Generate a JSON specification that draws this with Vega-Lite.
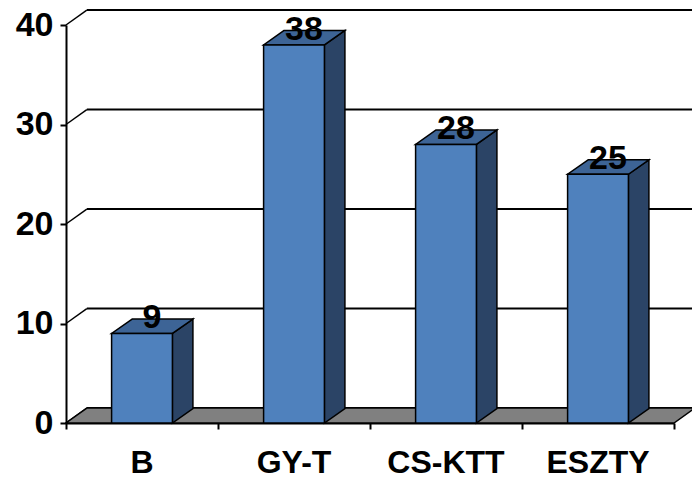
{
  "$schema": "https://vega.github.io/schema/vega-lite/v6.json",
  "width": 608,
  "height": 398,
  "autosize": {"type": "none"},
  "padding": {"left": 66, "top": 25, "right": 18, "bottom": 57},
  "background": "white",
  "config": {
    "view": {"stroke": null},
    "font": "Liberation Sans",
    "axis": {
      "grid": false, "tickSize": 6, "tickWidth": 2, "tickColor": "black",
      "domainWidth": 2, "domainColor": "black"
    },
    "axisX": {"labels": false},
    "axisY": {
      "labelFont": "Liberation Sans", "labelFontSize": 34, "labelFontWeight": "bold",
      "labelColor": "black", "labelPadding": 7
    }
  },
  "datasets": {
    "bars": [
      {"cat": "B", "value": 9},
      {"cat": "GY-T", "value": 38},
      {"cat": "CS-KTT", "value": 28},
      {"cat": "ESZTY", "value": 25}
    ],
    "ticks": [{"v": 0}, {"v": 10}, {"v": 20}, {"v": 30}, {"v": 40}]
  },
  "layer": [
    {
      "data": {"name": "ticks"},
      "transform": [{"calculate": "datum.v + 1.5", "as": "yb"}],
      "mark": {"type": "rule", "stroke": "black", "strokeWidth": 2},
      "encoding": {
        "x": {"datum": 0.137, "type": "quantitative", "title": null, "scale": {"domain": [0, 4], "nice": false}},
        "x2": {"datum": 4.3},
        "y": {"field": "yb", "type": "quantitative", "title": null, "scale": {"domain": [0, 40], "nice": false}}
      }
    },
    {
      "data": {"name": "ticks"},
      "transform": [{"calculate": "datum.v + 1.5", "as": "yb"}],
      "mark": {"type": "rule", "stroke": "black", "strokeWidth": 1.5},
      "encoding": {
        "x": {"datum": 0, "type": "quantitative", "title": null, "scale": {"domain": [0, 4], "nice": false}},
        "x2": {"datum": 0.137},
        "y": {"field": "v", "type": "quantitative", "title": null, "scale": {"domain": [0, 40], "nice": false}},
        "y2": {"field": "yb"}
      }
    },
    {
      "mark": {"type": "rule", "stroke": "black", "strokeWidth": 2},
      "encoding": {
        "x": {"datum": 0.137, "type": "quantitative", "title": null, "scale": {"domain": [0, 4], "nice": false}},
        "y": {"datum": 1.5, "type": "quantitative", "title": null, "scale": {"domain": [0, 40], "nice": false}},
        "y2": {"datum": 41.5}
      }
    },
    {
      "data": {"name": "ticks"},
      "transform": [
        {"filter": "datum.v == 0"},
        {"calculate": "[0, 1]", "as": "t"},
        {"flatten": ["t"]},
        {"calculate": "datum.t * 0.137", "as": "fx0"},
        {"calculate": "4 + datum.t * 0.137", "as": "fx1"},
        {"calculate": "datum.t * 1.5", "as": "fy"}
      ],
      "mark": {"type": "area", "orient": "horizontal", "fill": "#808080", "stroke": "black", "strokeWidth": 1.5},
      "encoding": {
        "y": {"field": "fy", "type": "quantitative", "title": null, "scale": {"domain": [0, 40], "nice": false}},
        "x": {"field": "fx0", "type": "quantitative", "title": null, "scale": {"domain": [0, 4], "nice": false}},
        "x2": {"field": "fx1"}
      }
    },
    {
      "data": {"name": "bars"},
      "transform": [
        {"window": [{"op": "row_number", "as": "rn"}]},
        {"calculate": "datum.rn - 1", "as": "idx"},
        {"calculate": "[0, 1]", "as": "t"},
        {"flatten": ["t"]},
        {"calculate": "datum.idx + 0.7 + datum.t * 0.135", "as": "sx"},
        {"calculate": "datum.value + datum.t * 1.45", "as": "sy"},
        {"calculate": "datum.t * 1.45", "as": "sy2"}
      ],
      "mark": {"type": "area", "orient": "vertical", "fill": "#2b4466", "stroke": "black", "strokeWidth": 1.5},
      "encoding": {
        "detail": {"field": "cat"},
        "x": {"field": "sx", "type": "quantitative", "title": null, "scale": {"domain": [0, 4], "nice": false}},
        "y": {"field": "sy", "type": "quantitative", "title": null, "scale": {"domain": [0, 40], "nice": false}},
        "y2": {"field": "sy2"}
      }
    },
    {
      "data": {"name": "bars"},
      "transform": [
        {"window": [{"op": "row_number", "as": "rn"}]},
        {"calculate": "datum.rn - 1", "as": "idx"},
        {"calculate": "[0, 1]", "as": "t"},
        {"flatten": ["t"]},
        {"calculate": "datum.idx + 0.3 + datum.t * 0.135", "as": "tx0"},
        {"calculate": "datum.idx + 0.7 + datum.t * 0.135", "as": "tx1"},
        {"calculate": "datum.value + datum.t * 1.45", "as": "ty"}
      ],
      "mark": {"type": "area", "orient": "horizontal", "fill": "#3d6496", "stroke": "black", "strokeWidth": 1.5},
      "encoding": {
        "detail": {"field": "cat"},
        "y": {"field": "ty", "type": "quantitative", "title": null, "scale": {"domain": [0, 40], "nice": false}},
        "x": {"field": "tx0", "type": "quantitative", "title": null, "scale": {"domain": [0, 4], "nice": false}},
        "x2": {"field": "tx1"}
      }
    },
    {
      "data": {"name": "bars"},
      "transform": [
        {"window": [{"op": "row_number", "as": "rn"}]},
        {"calculate": "datum.rn - 1", "as": "idx"},
        {"calculate": "datum.idx + 0.3", "as": "bx0"},
        {"calculate": "datum.idx + 0.7", "as": "bx1"}
      ],
      "mark": {"type": "rect", "fill": "#4f81bd", "stroke": "black", "strokeWidth": 1.5},
      "encoding": {
        "x": {
          "field": "bx0", "type": "quantitative", "title": null,
          "scale": {"domain": [0, 4], "nice": false},
          "axis": {"values": [0, 1, 2, 3, 4], "labels": false, "title": null}
        },
        "x2": {"field": "bx1"},
        "y": {
          "field": "value", "type": "quantitative", "title": null,
          "scale": {"domain": [0, 40], "nice": false},
          "axis": {"values": [0, 10, 20, 30, 40], "title": null}
        },
        "y2": {"datum": 0}
      }
    },
    {
      "data": {"name": "bars"},
      "transform": [
        {"window": [{"op": "row_number", "as": "rn"}]},
        {"calculate": "datum.rn - 0.5", "as": "cx"}
      ],
      "mark": {"type": "text", "font": "Liberation Sans", "fontSize": 34, "fontWeight": "bold", "color": "black", "baseline": "middle", "align": "center", "dx": 10, "dy": -15},
      "encoding": {
        "x": {"field": "cx", "type": "quantitative", "title": null, "scale": {"domain": [0, 4], "nice": false}},
        "y": {"field": "value", "type": "quantitative", "title": null, "scale": {"domain": [0, 40], "nice": false}},
        "text": {"field": "value"}
      }
    },
    {
      "data": {"name": "bars"},
      "transform": [
        {"window": [{"op": "row_number", "as": "rn"}]},
        {"calculate": "datum.rn - 0.5", "as": "cx"}
      ],
      "mark": {"type": "text", "font": "Liberation Sans", "fontSize": 32, "fontWeight": "bold", "color": "black", "baseline": "alphabetic", "align": "center", "dy": 50},
      "encoding": {
        "x": {"field": "cx", "type": "quantitative", "title": null, "scale": {"domain": [0, 4], "nice": false}},
        "y": {"datum": 0, "type": "quantitative", "title": null, "scale": {"domain": [0, 40], "nice": false}},
        "text": {"field": "cat"}
      }
    }
  ]
}
